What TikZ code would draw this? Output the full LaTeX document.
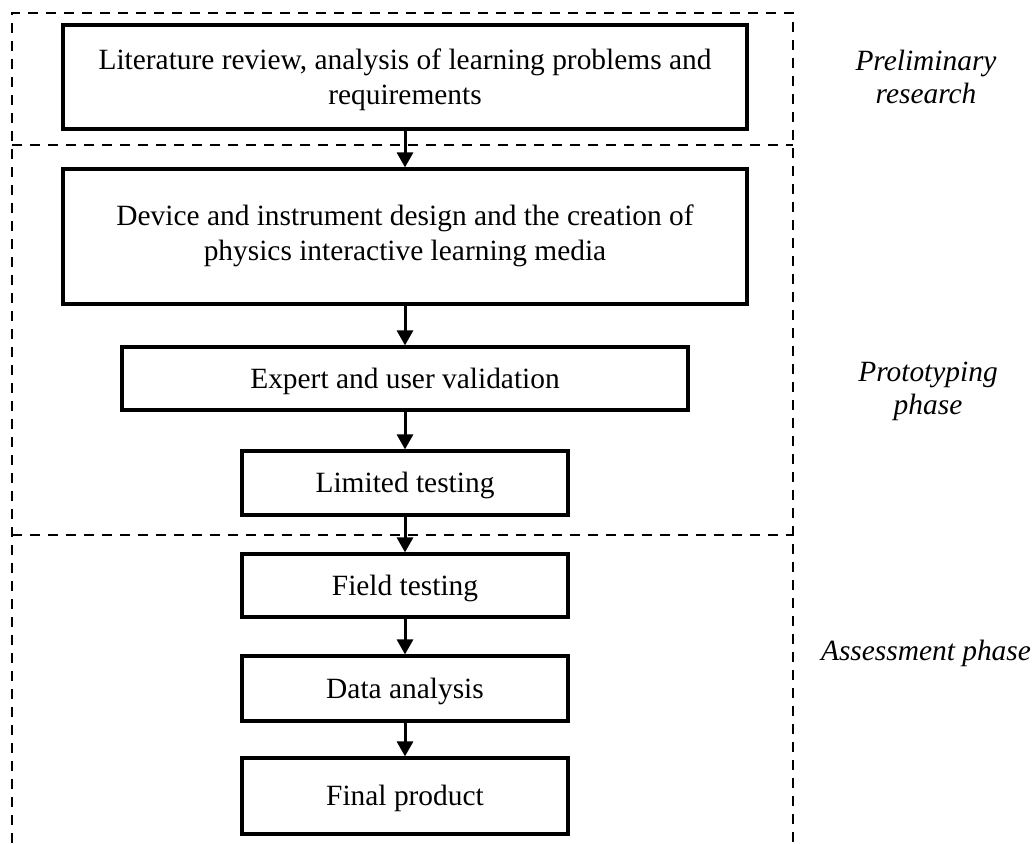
\documentclass[tikz,border=0pt]{standalone}
\usepackage{fontspec}
\setmainfont{Liberation Serif}
\usetikzlibrary{arrows.meta}
\begin{document}
\begin{tikzpicture}[x=1pt,y=-1pt,
  stepbox/.style={draw,line width=3.2pt,rectangle,inner sep=0pt,align=center,
    font=\fontsize{29.4}{35}\selectfont,text height=19pt,text depth=0pt},
  phase/.style={align=center,font=\fontsize{29.4}{33}\selectfont\itshape},
  frame/.style={line width=2.8pt,dash pattern=on 10pt off 8pt},
  flow/.style={line width=3pt,-{Triangle[length=15pt,width=16pt]}}]
\useasboundingbox (0,0) rectangle (1035,843);
% dashed frames
\coordinate (tl) at (12,13);
\coordinate (tr) at (793,13);
\coordinate (bl) at (12,843);
\coordinate (br) at (793,843);
\coordinate (d1l) at (12,145);
\coordinate (d1r) at (793,145);
\coordinate (d2l) at (12,535);
\coordinate (d2r) at (793,535);
\draw[frame] (bl) -- (tl) -- (tr) -- (br);
\draw[frame] (d1l) -- (d1r);
\draw[frame] (d2l) -- (d2r);
% boxes
\node[stepbox,text height=55pt,minimum width=684pt,minimum height=104pt] (b1) at (405,77)
  {Literature review, analysis of learning problems and\\requirements};
\node[stepbox,text height=47pt,minimum width=684pt,minimum height=135pt] (b2) at (405,236.5)
  {Device and instrument design and the creation of\\physics interactive learning media};
\node[stepbox,minimum width=566pt,minimum height=63pt] (b3) at (405,378.5)
  {Expert and user validation};
\node[stepbox,minimum width=326pt,minimum height=64pt] (b4) at (405,483)
  {Limited testing};
\node[stepbox,minimum width=326pt,minimum height=63pt] (b5) at (405,585.5)
  {Field testing};
\node[stepbox,minimum width=326pt,minimum height=65pt] (b6) at (405,688.5)
  {Data analysis};
\node[stepbox,minimum width=326pt,minimum height=76pt] (b7) at (405,796)
  {Final product};
% arrows
\draw[flow] (b1.south) -- (b2.north);
\draw[flow] (b2.south) -- (b3.north);
\draw[flow] (b3.south) -- (b4.north);
\draw[flow] (b4.south) -- (b5.north);
\draw[flow] (b5.south) -- (b6.north);
\draw[flow] (b6.south) -- (b7.north);
% phase labels
\node[phase] (p1) at (926,77) {Preliminary\\research};
\node[phase] (p2) at (928,391) {Prototyping\\phase};
\node[phase] (p3) at (926,653) {Assessment phase};
\end{tikzpicture}
\end{document}
